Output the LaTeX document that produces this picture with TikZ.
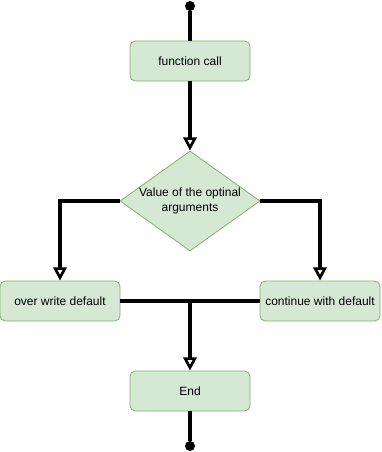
\documentclass[tikz,border=0pt]{standalone}
\usepackage{fontspec}
\setmainfont{Liberation Sans}
\usetikzlibrary{arrows.meta, positioning, shapes.geometric}
\definecolor{boxfill}{HTML}{D5E8D4}
\definecolor{boxline}{HTML}{82B366}

\begin{document}
\begin{tikzpicture}[x=0.75pt, y=-0.75pt,
    flowbox/.style={draw=boxline, fill=boxfill, rounded corners=4pt, line width=0.6pt,
        minimum width=90pt, minimum height=30pt, inner sep=1pt, font=\fontsize{9}{11}\selectfont},
    decision/.style={diamond, draw=boxline, fill=boxfill, line width=0.6pt, aspect=1.4,
        minimum width=105pt, minimum height=75pt, inner sep=0pt, align=center,
        font=\fontsize{9}{11}\selectfont},
    terminal/.style={circle, fill=black, minimum size=7.5pt, inner sep=0pt},
    flow/.style={line width=2.6pt, -{Triangle[open, width=10pt, length=10pt, line width=2pt]}},
    link/.style={line width=2.6pt}]
    % Bounding box
    \useasboundingbox (0,0) rectangle (381,452);

    % Nodes
    \node[terminal] (start) at (190,6) {};
    \node[flowbox] (call) at (190,61) {function call};
    \node[decision] (value) at (190,201) {Value of the optinal\\arguments};
    \node[flowbox] (over) at (60,301) {over write default};
    \node[flowbox] (keep) at (320,301) {continue with default};
    \coordinate (join) at (190,301);
    \node[flowbox] (finish) at (190,391) {End};
    \node[terminal] (stop) at (190,446) {};

    % Connectors
    \draw[link] (start) -- (call);
    \draw[flow] (call) -- (value.north);
    \draw[flow] (value.west) -| (over.north);
    \draw[flow] (value.east) -| (keep.north);
    \draw[link] (over.east) -- (keep.west);
    \draw[flow] (join) -- (finish.north);
    \draw[link] (finish) -- (stop);
\end{tikzpicture}
\end{document}
